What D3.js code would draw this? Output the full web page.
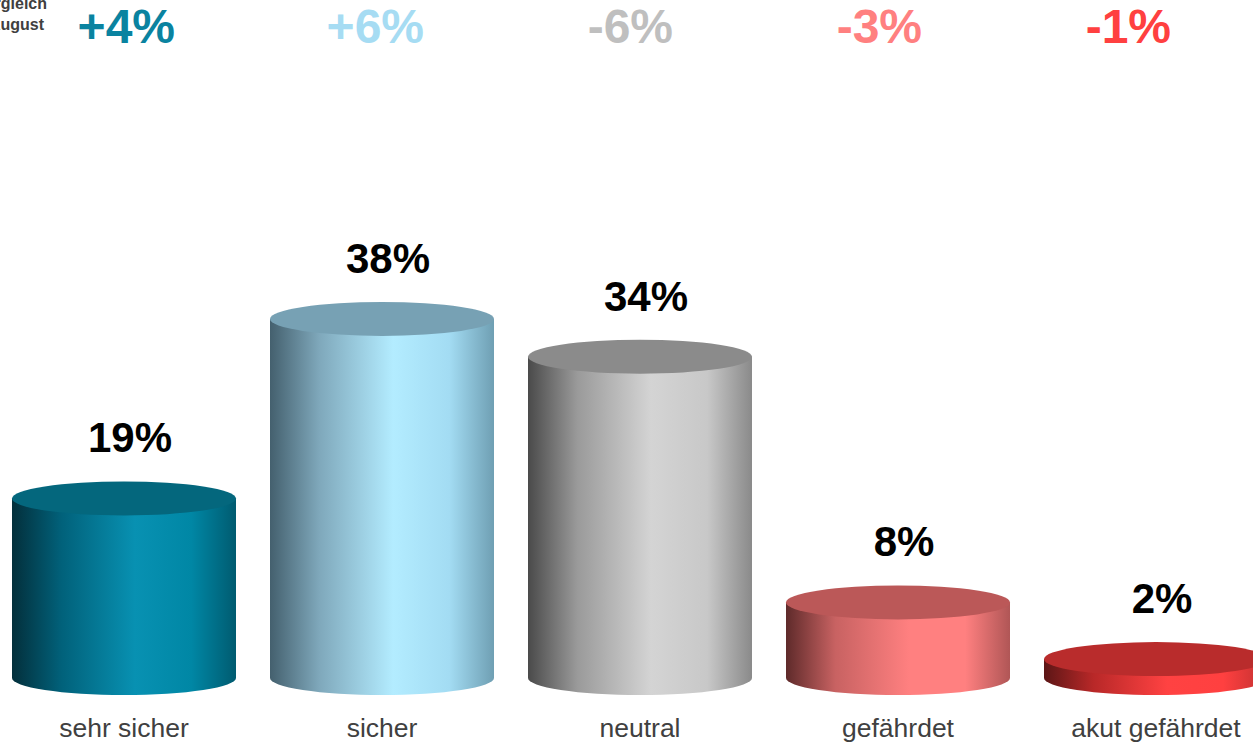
<!DOCTYPE html>
<html>
<head>
<meta charset="utf-8">
<script src="https://cdn.jsdelivr.net/npm/d3@7/dist/d3.min.js"></script>
<style>
  html, body { margin: 0; padding: 0; background: #ffffff; overflow: hidden; }
  svg { display: block; font-family: "Liberation Sans", Arial, sans-serif; }
</style>
</head>
<body>
<svg id="chart" width="1253" height="742"></svg>
<script>
// ---- data ----
const categories = ["sehr sicher", "sicher", "neutral", "gefährdet", "akut gefährdet"];
const values = [19, 38, 34, 8, 2];
const valueLabels = ["19%", "38%", "34%", "8%", "2%"];
const deltaLabels = ["+4%", "+6%", "-6%", "-3%", "-1%"];
const headerLines = ["Vergleich", "August"];

// ---- styles ----
const deltaColors = ["#0a83a0", "#a6dcf3", "#bfbfbf", "#ff8080", "#ff4040"];
const sideStops = [
  ["#032f3b", "#01617a", "#0891b2", "#0087a5", "#005b70"],
  ["#44606e", "#7fa8bb", "#b3ecff", "#a3dcf3", "#6f9fb3"],
  ["#4a4a4a", "#9a9a9a", "#d4d4d4", "#c8c8c8", "#8a8a8a"],
  ["#5e2a2a", "#c86262", "#ff8080", "#ff8080", "#b05656"],
  ["#5c1616", "#b82828", "#ff4242", "#ff4040", "#c03030"]
];
const topColors = ["#04677d", "#77a1b4", "#8b8b8b", "#bb5858", "#b92c2c"];
const stopOffsets = [0, 0.22, 0.55, 0.8, 1];

const svg = d3.select("#chart");

const x = d3.scaleBand()
  .domain(categories)
  .range([12, 1268])
  .paddingInner(34 / 258)
  .paddingOuter(0);

const y = d3.scaleLinear().domain([0, 40]).range([678, 300]);

// right edges of the comparison labels
const xHeader = d3.scalePoint().domain(categories).range([175, 1171]);

const ry = 17;
const defs = svg.append("defs");

categories.forEach((c, i) => {
  const g = defs.append("linearGradient")
    .attr("id", "side" + i)
    .attr("x1", "0%").attr("x2", "100%").attr("y1", "0%").attr("y2", "0%");
  sideStops[i].forEach((col, k) => {
    g.append("stop").attr("offset", stopOffsets[k]).attr("stop-color", col);
  });
});

// header text (cut off at left edge as in the original)
svg.append("g")
  .selectAll("text")
  .data(headerLines)
  .join("text")
  .attr("x", (d, i) => i === 0 ? 47 : 44)
  .attr("y", (d, i) => 9 + i * 21)
  .attr("text-anchor", "end")
  .attr("font-size", 16)
  .attr("font-weight", "bold")
  .attr("fill", "#404040")
  .text(d => d);

// deltas
svg.append("g")
  .selectAll("text")
  .data(deltaLabels)
  .join("text")
  .attr("x", (d, i) => xHeader(categories[i]))
  .attr("y", 43)
  .attr("text-anchor", "end")
  .attr("font-size", 48)
  .attr("font-weight", "bold")
  .attr("fill", (d, i) => deltaColors[i])
  .text(d => d);

// cylinders
const cyl = svg.append("g")
  .selectAll("g")
  .data(values)
  .join("g");

cyl.append("path")
  .attr("d", (v, i) => {
    const l = x(categories[i]), r = l + x.bandwidth();
    const rx = x.bandwidth() / 2;
    const top = y(v), bot = y(0);
    return `M${l},${top} L${l},${bot} A${rx},${ry} 0 0 0 ${r},${bot} L${r},${top} Z`;
  })
  .attr("fill", (v, i) => `url(#side${i})`);

cyl.append("ellipse")
  .attr("cx", (v, i) => x(categories[i]) + x.bandwidth() / 2)
  .attr("cy", v => y(v))
  .attr("rx", x.bandwidth() / 2)
  .attr("ry", ry)
  .attr("fill", (v, i) => topColors[i]);

// value labels
svg.append("g")
  .selectAll("text")
  .data(values)
  .join("text")
  .attr("x", (v, i) => x(categories[i]) + x.bandwidth() / 2 + 6)
  .attr("y", v => y(v) - ry - 29)
  .attr("text-anchor", "middle")
  .attr("font-size", 42)
  .attr("font-weight", "bold")
  .attr("fill", "#000000")
  .text((v, i) => valueLabels[i]);

// category labels
svg.append("g")
  .selectAll("text")
  .data(categories)
  .join("text")
  .attr("x", c => x(c) + x.bandwidth() / 2)
  .attr("y", 737)
  .attr("text-anchor", "middle")
  .attr("font-size", 26.5)
  .attr("fill", "#404040")
  .text(c => c);
</script>
</body>
</html>
